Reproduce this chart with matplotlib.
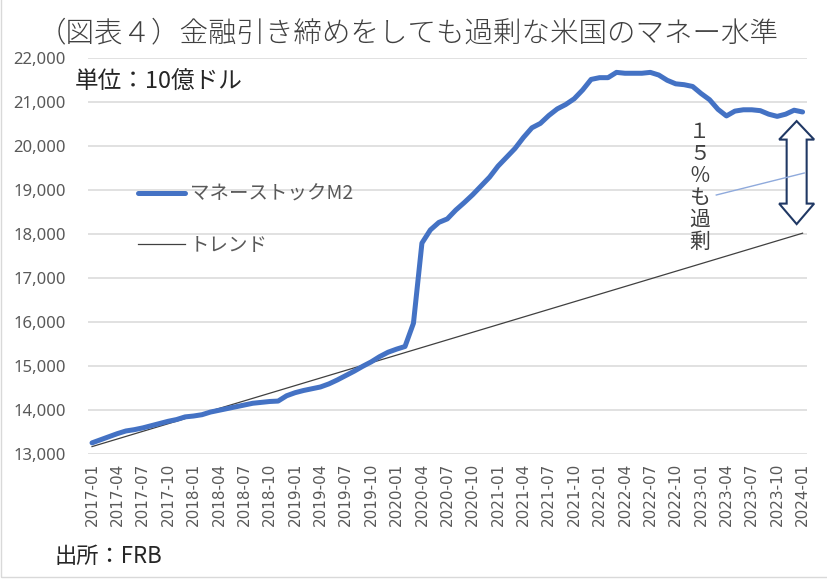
import matplotlib
matplotlib.use("Agg")
import matplotlib.pyplot as plt
from matplotlib.patches import Polygon, Rectangle
import pandas as pd

# ---- data ----
months = [p.strftime("%Y-%m") for p in pd.period_range("2017-01", "2024-01", freq="M")]
m2 = [13260, 13330, 13400, 13470, 13530, 13560, 13600, 13650, 13700, 13750, 13790, 13850,
      13870, 13900, 13960, 14000, 14040, 14080, 14120, 14160, 14180, 14200, 14210, 14330,
      14400, 14450, 14490, 14530, 14600, 14690, 14790, 14890, 15000, 15100, 15220, 15320,
      15390, 15450, 15980, 17800, 18100, 18270, 18350, 18550, 18720, 18900, 19100, 19300,
      19550, 19750, 19950, 20200, 20420, 20520, 20700, 20850, 20950, 21080, 21280, 21520,
      21560, 21560, 21680, 21660, 21660, 21660, 21680, 21620, 21500, 21420, 21400, 21360,
      21200, 21060, 20840, 20690, 20800, 20830, 20830, 20810, 20730, 20680, 20730, 20820,
      20780]
trend_start = 13175
trend_end = 18025
yticks = [13000, 14000, 15000, 16000, 17000, 18000, 19000, 20000, 21000, 22000]
xtick_labels = months[::3]

title = "（図表４）金融引き締めをしても過剰な米国のマネー水準"
unit_text = "単位：10億ドル"
source_text = "出所：FRB"
note_text = "１\n５\n％\nも\n過\n剰"

plt.rcParams['font.family'] = ['Noto Sans CJK JP', 'DejaVu Sans']

fig = plt.figure(figsize=(8.28, 5.82), dpi=100)
ax_w_px, ax_h_px = 719, 396
ax = fig.add_axes([87.8 / 828, 1 - 454.3 / 582, ax_w_px / 828, ax_h_px / 582])

x = list(range(len(months)))
ax.plot(x, m2, color='#4472C4', lw=3.6, solid_capstyle='round', solid_joinstyle='round',
        label='マネーストックM2', zorder=3)
ax.plot([x[0], x[-1]], [trend_start, trend_end], color='#404040', lw=0.9,
        label='トレンド', zorder=2)

xlim = (-0.5, len(months) - 0.5)
ylim = (yticks[0], yticks[-1])
ax.set_xlim(*xlim)
ax.set_ylim(*ylim)
ax.set_yticks(yticks)
ax.set_yticklabels([f"{v:,}" for v in yticks], family='Noto Sans', fontsize=12, color='#595959')
ax.set_xticks(x[::3])
ax.set_xticklabels(xtick_labels, rotation=90, family='DejaVu Sans', fontsize=11, color='#595959')
ax.tick_params(axis='y', length=0, pad=16)
ax.tick_params(axis='x', length=0, pad=6)
ax.grid(axis='y', color='#D9D9D9', lw=1.1)
ax.set_axisbelow(True)
for s in ax.spines.values():
    s.set_visible(False)

leg = ax.legend(loc='upper left', bbox_to_anchor=(138 / 828, 1 - 184 / 582),
                bbox_transform=fig.transFigure, frameon=False, fontsize=14,
                labelcolor='#595959', handlelength=2.4, handletextpad=0.25,
                labelspacing=1.55, borderpad=0, borderaxespad=0)

# double-headed hollow arrow between M2 and trend at the last month (shape in pixels)
px_x = (xlim[1] - xlim[0]) / ax_w_px
px_y = (ylim[1] - ylim[0]) / ax_h_px
cx = x[-1] - 0.7
cy = (m2[-1] + trend_end) / 2
shape_px = [(0, 51.5), (17.5, 33), (10, 33), (10, -31), (17.5, -31),
            (0, -51.5), (-17.5, -31), (-10, -31), (-10, 33), (-17.5, 33)]
arrow_pts = [(cx + dx * px_x, cy + dy * px_y) for dx, dy in shape_px]
ax.add_patch(Polygon(arrow_pts, closed=True, facecolor='white',
                     edgecolor='#203864', lw=1.5, zorder=5, clip_on=False))

# leader line and vertical note
ax.plot([73.8, 84.2], [18893, 19393], color='#8FAADC', lw=1.0, zorder=6, clip_on=False)
ax.text(71.8, 19086, note_text, ha='center', va='center', fontsize=15,
        linespacing=1.0, color='#404040', zorder=6)

fig.text(38 / 828, 1 - 33 / 582, title, fontsize=20.5, ha='left', va='center',
         color='#404040', fontweight='light')
fig.text(75 / 828, 1 - 82 / 582, unit_text, fontsize=17, ha='left', va='center', color='#262626')
fig.text(55 / 828, 1 - 556 / 582, source_text, fontsize=16, ha='left', va='center', color='#262626')

fig.add_artist(Rectangle((0.0015, 1 - 577 / 582), 1.5, 1.5, transform=fig.transFigure,
                         fill=False, ec='#D9D9D9', lw=1))

fig.savefig('out.png', dpi=100)
